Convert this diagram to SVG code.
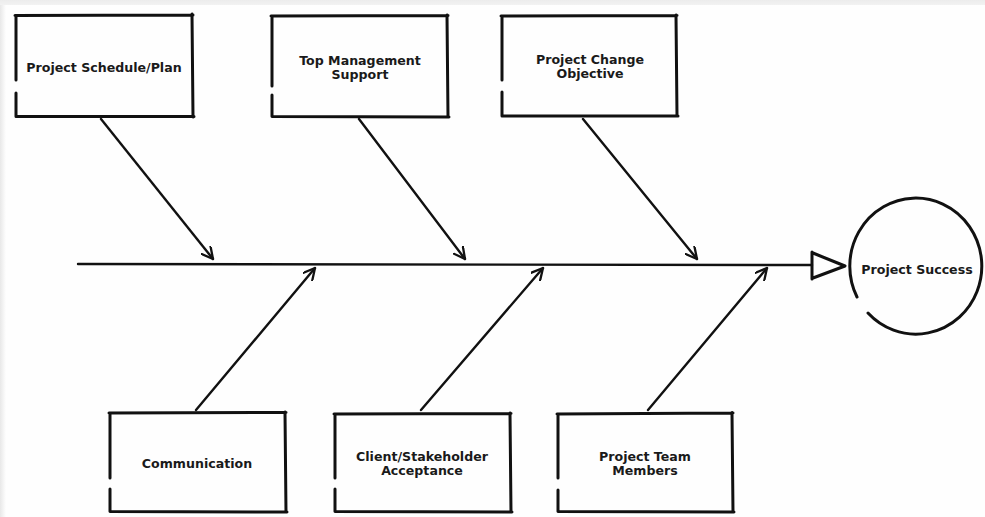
<svg xmlns="http://www.w3.org/2000/svg" width="985" height="517" viewBox="0 0 985 517">
<defs>
<linearGradient id="lg" x1="0" y1="0" x2="1" y2="0"><stop offset="0" stop-color="#e8e8e8"/><stop offset="1" stop-color="#fefefe"/></linearGradient>
<linearGradient id="tg" x1="0" y1="0" x2="0" y2="1"><stop offset="0" stop-color="#ececec"/><stop offset="1" stop-color="#f2f2f2"/></linearGradient>
<marker id="chev" viewBox="0 0 13 13" refX="12" refY="6.5" markerWidth="13" markerHeight="13" markerUnits="userSpaceOnUse" orient="auto">
<path d="M0.5,0.5 L12,6.5 L0.5,12.5" fill="none" stroke="#111" stroke-width="2.3" stroke-linecap="round" stroke-linejoin="round"/>
</marker>
<style>
.box{fill:none;stroke:#111;stroke-width:3;stroke-linecap:round;stroke-linejoin:round}
.edge{fill:none;stroke:#111;stroke-width:2.4;stroke-linecap:round}
.lbl{font-family:"DejaVu Sans",Verdana,sans-serif;font-weight:bold;font-size:12.6px;fill:#1a1a1a;text-anchor:middle}
</style>
</defs>
<rect width="985" height="517" fill="#fefefe"/>
<rect width="6" height="517" fill="url(#lg)"/>
<rect width="985" height="5" fill="url(#tg)"/>

<g id="connectors">
<path class="edge" d="M78,264 L812,265" stroke-width="3"/>
<path class="box" d="M812,252 L812,279 M813,253 L845,266 L813,278"/>
<path class="edge" d="M101,119 L213,259" marker-end="url(#chev)"/>
<path class="edge" d="M359,119 L465,259" marker-end="url(#chev)"/>
<path class="edge" d="M583,119 L697,259" marker-end="url(#chev)"/>
<path class="edge" d="M196,410 L315,268" marker-end="url(#chev)"/>
<path class="edge" d="M421,410 L543,268" marker-end="url(#chev)"/>
<path class="edge" d="M648,410 L767,268" marker-end="url(#chev)"/>
</g>

<g id="node-schedule">
<path class="box" d="M15,15.5 L193,15 M192,14 L193,117 M194,116.5 L16,116.5 L16,93 M16,80 L16,17"/>
<text class="lbl" x="104" y="72">Project Schedule/Plan</text>
</g>
<g id="node-management">
<path class="box" d="M271,16 L448,15.5 M447,15 L448,117 M449,117 L272,116.5 L272,95 M272,86 L272,17"/>
<text class="lbl" x="360" y="65">Top Management</text>
<text class="lbl" x="360" y="79">Support</text>
</g>
<g id="node-change">
<path class="box" d="M501,16 L677,15.5 M676,15 L677,116 M678,116 L502,116 L502,92 M502,80 L502,17"/>
<text class="lbl" x="590" y="64">Project Change</text>
<text class="lbl" x="590" y="78">Objective</text>
</g>
<g id="node-success">
<path class="box" stroke-width="3.2" d="M868,313 A66,68 0 1 0 857,297"/>
<text class="lbl" x="917" y="274">Project Success</text>
</g>
<g id="node-communication">
<path class="box" d="M109,413 L286,412.5 M285,412 L286,512 M287,512 L110,511.5 L110,489 M110,478 L110,414"/>
<text class="lbl" x="197" y="468">Communication</text>
</g>
<g id="node-client">
<path class="box" d="M334,414 L511,413.5 M510,413 L511,512 M512,512 L335,511.5 L335,489 M335,478 L335,415"/>
<text class="lbl" x="422" y="461">Client/Stakeholder</text>
<text class="lbl" x="422" y="475">Acceptance</text>
</g>
<g id="node-team">
<path class="box" d="M557,414 L733,413 M732,412.5 L733,512 M734,512 L558,511.5 L558,490 M558,478 L558,415"/>
<text class="lbl" x="645" y="461">Project Team</text>
<text class="lbl" x="645" y="475">Members</text>
</g>
</svg>
